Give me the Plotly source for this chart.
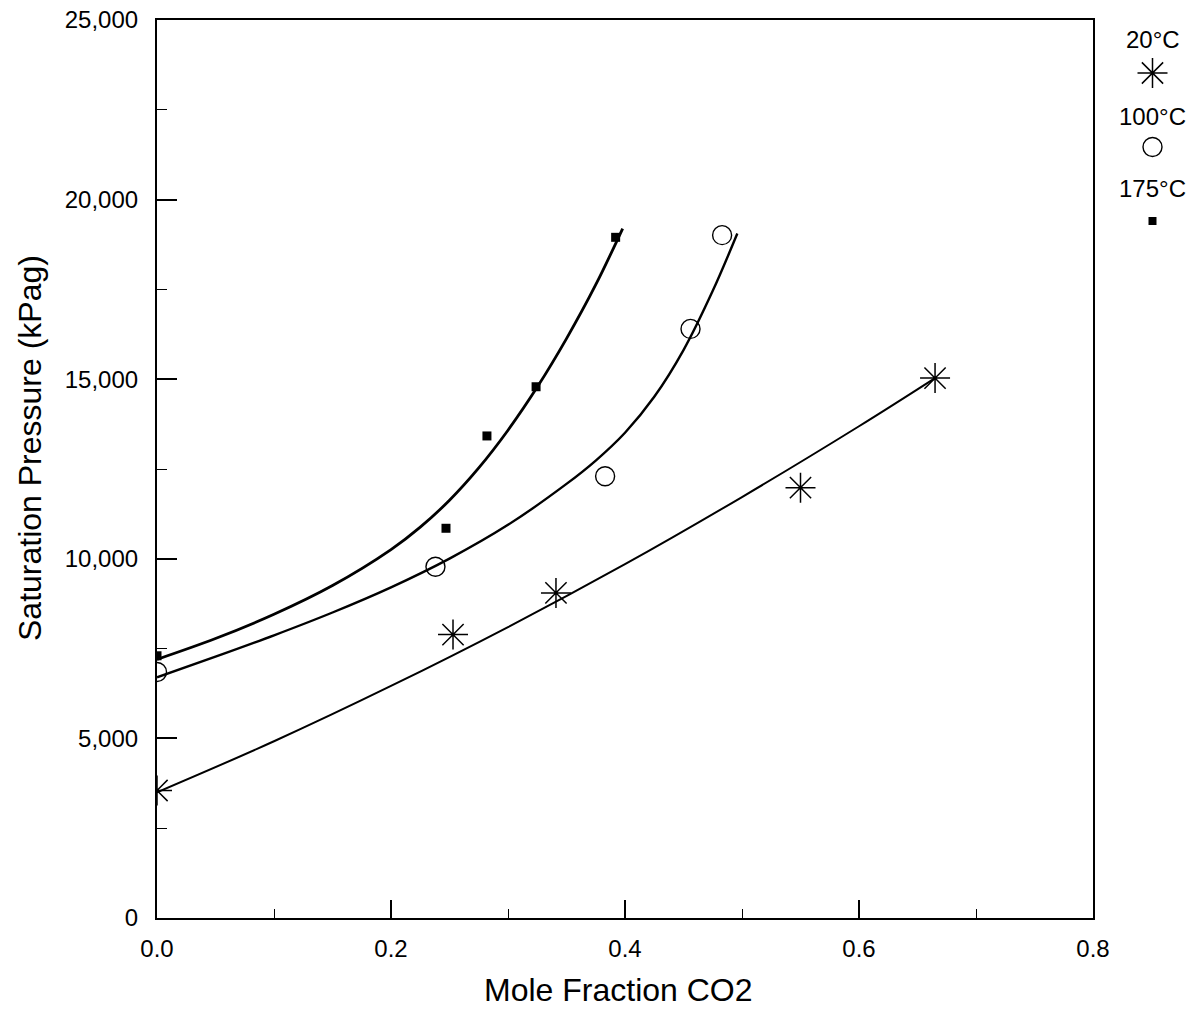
import plotly.graph_objects as go

# ---- measured data points ----
x_20 = [0.0, 0.253, 0.341, 0.550, 0.665]
y_20 = [3550, 7890, 9050, 11980, 15030]

x_100 = [0.0, 0.238, 0.383, 0.456, 0.483]
y_100 = [6850, 9780, 12300, 16400, 19010]

x_175 = [0.0, 0.247, 0.282, 0.324, 0.392]
y_175 = [7300, 10850, 13420, 14790, 18950]

# ---- fitted curves ----
cx_20 = [0.0, 0.1, 0.2, 0.3, 0.4, 0.5, 0.6, 0.665]
cy_20 = [3500, 4920, 6460, 8100, 9850, 11720, 13690, 15030]

cx_100 = [0.0, 0.05, 0.1, 0.15, 0.2, 0.25, 0.3, 0.35, 0.375, 0.4, 0.425, 0.45, 0.475, 0.496]
cy_100 = [6700, 7275, 7870, 8505, 9205, 10005, 10945, 12085, 12735, 13510, 14510, 15810, 17460, 19056]

cx_175 = [0.0, 0.05, 0.1, 0.15, 0.2, 0.225, 0.25, 0.275, 0.3, 0.325, 0.35, 0.375, 0.398]
cy_175 = [7200, 7780, 8455, 9255, 10255, 10880, 11630, 12530, 13580, 14780, 16130, 17630, 19194]

series_names = ["20°C", "100°C", "175°C"]
x_ticks = [0.0, 0.2, 0.4, 0.6, 0.8]
x_tick_text = ["0.0", "0.2", "0.4", "0.6", "0.8"]
y_ticks = [0, 5000, 10000, 15000, 20000, 25000]
x_title = "Mole Fraction CO2"
y_title = "Saturation Pressure (kPag)"

FONT = "Liberation Sans, Arial, sans-serif"
BLACK = "#000000"

fig = go.Figure()

# curves
fig.add_trace(go.Scatter(x=cx_20, y=cy_20, mode="lines", line=dict(color=BLACK, width=2.0, shape="spline"),
                         showlegend=False, hoverinfo="skip"))
fig.add_trace(go.Scatter(x=cx_100, y=cy_100, mode="lines", line=dict(color=BLACK, width=2.4, shape="spline"),
                         showlegend=False, hoverinfo="skip"))
fig.add_trace(go.Scatter(x=cx_175, y=cy_175, mode="lines", line=dict(color=BLACK, width=2.8, shape="spline"),
                         showlegend=False, hoverinfo="skip"))

# markers
sym = dict(
    m20=dict(symbol="asterisk-open", size=25, color=BLACK, line=dict(color=BLACK, width=1.5)),
    m100=dict(symbol="circle-open", size=19, color=BLACK, line=dict(color=BLACK, width=1.4)),
    m175=dict(symbol="square", size=9, color=BLACK, line=dict(color=BLACK, width=0)),
)
fig.add_trace(go.Scatter(x=x_20, y=y_20, mode="markers", marker=sym["m20"], name=series_names[0], showlegend=False))
fig.add_trace(go.Scatter(x=x_100, y=y_100, mode="markers", marker=sym["m100"], name=series_names[1], showlegend=False))
fig.add_trace(go.Scatter(x=x_175, y=y_175, mode="markers", marker=sym["m175"], name=series_names[2], showlegend=False))

# ---- custom legend (text above symbol) on an overlay axis in pixel-like units ----
leg_sym_y = [73, 147, 221]
leg_text_y = [39, 116, 188]
leg_markers = [sym["m20"], sym["m100"], dict(sym["m175"], size=8)]
for i in range(3):
    fig.add_trace(go.Scatter(x=[0.5], y=[leg_sym_y[i]], mode="markers", marker=leg_markers[i],
                             xaxis="x2", yaxis="y2", showlegend=False, hoverinfo="skip", cliponaxis=False))
    fig.add_annotation(x=0.5, y=leg_text_y[i], xref="x2", yref="y2", text=series_names[i], showarrow=False,
                       font=dict(family=FONT, size=24, color=BLACK), xanchor="center", yanchor="middle")

W, H = 1200, 1025
ml, mr, mt, mb = 157, 10, 20, 107
pw = W - ml - mr
ph = H - mt - mb
main_end = (1093 - ml) / pw

# axis titles as annotations (placed like the original, slightly off-centre)
fig.add_annotation(text=x_title, xref="paper", yref="paper", x=(618 - ml) / pw, y=(918 - 990) / ph,
                   showarrow=False, xanchor="center", yanchor="middle",
                   font=dict(family=FONT, size=32, color=BLACK))
fig.add_annotation(text=y_title, xref="paper", yref="paper", x=(30 - ml) / pw, y=(918 - 448) / ph,
                   showarrow=False, xanchor="center", yanchor="middle", textangle=-90,
                   font=dict(family=FONT, size=32, color=BLACK))

fig.update_layout(
    template="none",
    width=W, height=H,
    margin=dict(l=ml, r=mr, t=mt, b=mb, autoexpand=False),
    paper_bgcolor="white", plot_bgcolor="white",
    font=dict(family=FONT, color=BLACK),
    xaxis=dict(
        domain=[0, main_end], range=[0, 0.8], tickvals=x_ticks, ticktext=x_tick_text,
        ticks="inside", ticklen=18, tickwidth=1.5, tickcolor=BLACK,
        minor=dict(ticks="inside", dtick=0.1, ticklen=9, tickwidth=1.2, tickcolor=BLACK),
        showline=True, linecolor=BLACK, linewidth=2.2, mirror=True,
        showgrid=False, zeroline=False, automargin=False,
        tickfont=dict(family=FONT, size=24, color=BLACK), ticklabelstandoff=8,
    ),
    yaxis=dict(
        range=[0, 25000], tickvals=y_ticks, tickformat=",",
        ticks="inside", ticklen=20, tickwidth=1.5, tickcolor=BLACK,
        minor=dict(ticks="inside", dtick=2500, ticklen=10, tickwidth=1.2, tickcolor=BLACK),
        showline=True, linecolor=BLACK, linewidth=2.2, mirror=True,
        showgrid=False, zeroline=False, automargin=False,
        tickfont=dict(family=FONT, size=24, color=BLACK), ticklabelstandoff=12,
    ),
    xaxis2=dict(domain=[(1120 - ml) / pw, (1185 - ml) / pw], range=[0, 1], visible=False,
                fixedrange=True, automargin=False),
    yaxis2=dict(domain=[0, 1], range=[918, 20], visible=False, anchor="x2", fixedrange=True, automargin=False),
    showlegend=False,
)

fig.write_html("out.html")
